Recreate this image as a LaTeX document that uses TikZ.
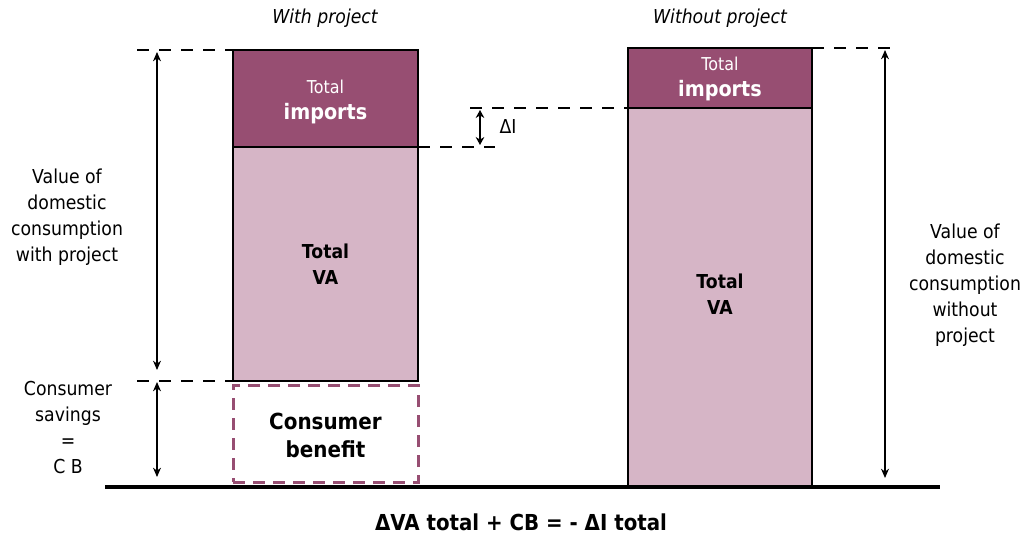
\documentclass[tikz,border=0pt]{standalone}
\usepackage{fontspec}
\setmainfont{DejaVu Sans}[FakeStretch=0.9]
\usetikzlibrary{arrows.meta}
\definecolor{dpur}{HTML}{974E72}
\definecolor{lpur}{HTML}{D6B5C6}
\begin{document}
\begin{tikzpicture}[x=0.75pt,y=-0.75pt,
  barline/.style={draw=black,line width=1.5pt,outer sep=0pt,inner sep=0pt},
  impbox/.style={barline,fill=dpur},
  vabox/.style={barline,fill=lpur},
  cbbox/.style={draw=dpur,line width=2.25pt,dash pattern=on 9pt off 6pt,inner sep=0pt,outer sep=0pt},
  imptext/.style={text=white,align=center,font=\fontsize{13.3}{19}\selectfont},
  vatext/.style={align=center,font=\fontsize{14.4}{19.5}\selectfont\bfseries},
  cbtext/.style={align=center,font=\fontsize{16.6}{21}\selectfont\bfseries},
  guide/.style={line width=1.5pt,dash pattern=on 9pt off 7.5pt},
  dimarrow/.style={line width=0.9pt,{Stealth[length=7pt,width=6pt]}-{Stealth[length=7pt,width=6pt]}},
  smallarrow/.style={line width=1.5pt,{Stealth[length=6pt,width=6.5pt]}-{Stealth[length=6pt,width=6.5pt]}},
  lbl/.style={align=center,font=\fontsize{14.4}{19.5}\selectfont},
  ttl/.style={font=\fontsize{14.4}{15}\selectfont\itshape}
]
\useasboundingbox (0,0) rectangle (1032,535);

% bars
\node[impbox,minimum width=138.75pt,minimum height=72.75pt] (limp) at (325.5,98.5) {};
\node[vabox,minimum width=138.75pt,minimum height=175.5pt] (lva) at (325.5,264) {};
\node[cbbox,minimum width=138.75pt,minimum height=72.75pt] (cb) at (325.5,433.5) {};
\node[impbox,minimum width=138pt,minimum height=45pt] (rimp) at (720,78) {};
\node[vabox,minimum width=138pt,minimum height=284.25pt] (rva) at (720,297.5) {};

\node[imptext] (limpt) at (325.5,102) {Total\\{\fontsize{16}{16}\selectfont\bfseries imports}};
\node[vatext] (lvat) at (325.5,264) {Total\\VA};
\node[cbtext] (cbt) at (325.5,435) {Consumer\\benefit};
\node[imptext] (rimpt) at (720,79) {Total\\{\fontsize{16}{16}\selectfont\bfseries imports}};
\node[vatext] (rvat) at (720,294) {Total\\VA};

% ground
\coordinate (g1) at (105,487);
\coordinate (g2) at (940,487);
\draw[line width=3pt] (g1) -- (g2);

% dashed guides
\coordinate (d1) at (137,50);
\coordinate (d3) at (495,147);
\coordinate (d4) at (470,108);
\coordinate (d5) at (890,48);
\draw[guide] (limp.north west -| d1) -- (limp.north west);
\draw[guide] (lva.south west -| d1) -- (lva.south west);
\draw[guide] (limp.south east) -- (limp.south east -| d3);
\draw[guide] (rimp.south west -| d4) -- (rimp.south west);
\draw[guide] (rimp.north east) -- (rimp.north east -| d5);

% dimension arrows
\coordinate (a1) at (157,52);
\coordinate (a2) at (157,370);
\coordinate (a3) at (157,382);
\coordinate (a4) at (157,477);
\coordinate (a5) at (480,110);
\coordinate (a6) at (480,145);
\coordinate (a7) at (885,50);
\coordinate (a8) at (885,478);
\draw[dimarrow] (a1) -- (a2);
\draw[dimarrow] (a3) -- (a4);
\draw[smallarrow] (a5) -- (a6);
\draw[dimarrow] (a7) -- (a8);

% labels
\node[ttl] (t1) at (325,18) {With project};
\node[ttl] (t2) at (720,18) {Without project};
\node[lbl] (lab1) at (67,217) {Value of\\domestic\\consumption\\with project};
\node[lbl] (lab2) at (68,428) {Consumer\\savings\\=\\C B};
\node[lbl] (lab3) at (965,285) {Value of\\domestic\\consumption\\without\\project};
\node[font=\fontsize{14.4}{15}\selectfont] (dI) at (508,127) {ΔI};
\node[font=\fontsize{16.5}{16}\selectfont\bfseries] (eq) at (521,522) {ΔVA total + CB = - ΔI total};
\end{tikzpicture}
\end{document}
